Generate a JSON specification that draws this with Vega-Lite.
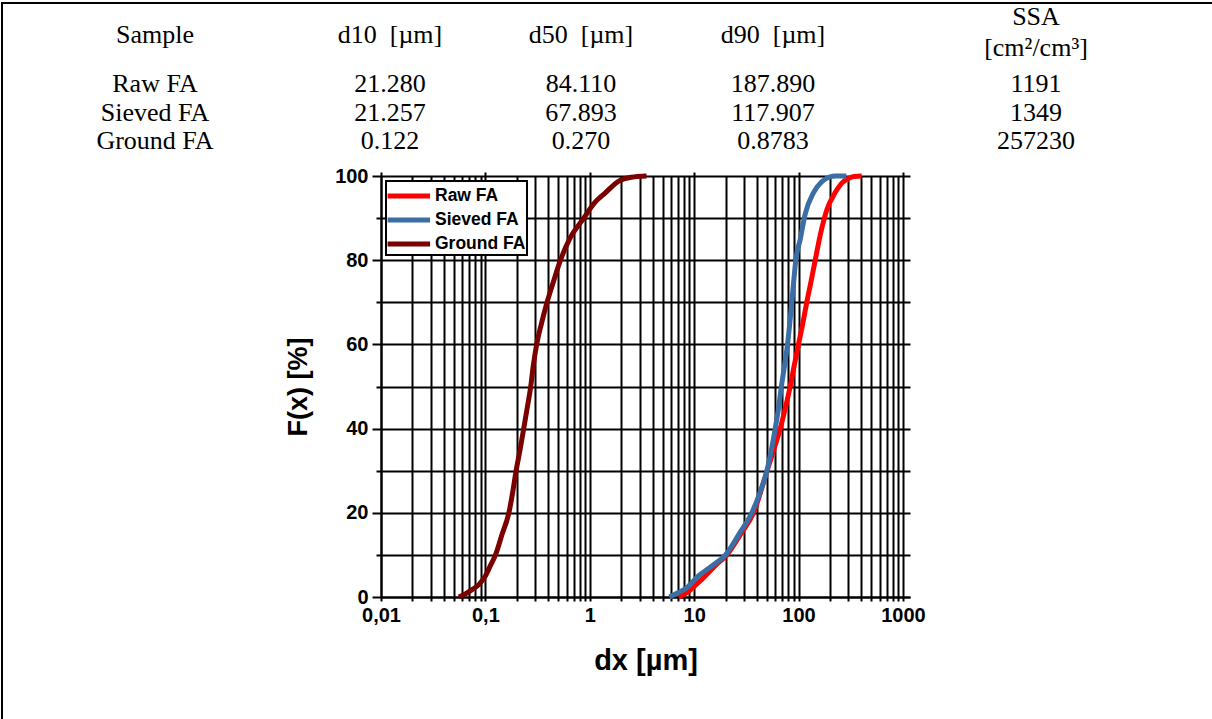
{
  "$schema": "https://vega.github.io/schema/vega-lite/v6.json",
  "padding": {"left": 1, "top": 2, "right": 0, "bottom": 0},
  "background": "white",
  "config": {
    "view": {"stroke": null},
    "title": {"font": "Liberation Serif", "fontSize": 26, "fontWeight": "normal", "color": "black", "anchor": "middle"},
    "legend": {"strokeWidth": 2}
  },
  "datasets": {
    "table": [
      {"sample": "Raw FA", "d10": "21.280", "d50": "84.110", "d90": "187.890", "ssa": "1191"},
      {"sample": "Sieved FA", "d10": "21.257", "d50": "67.893", "d90": "117.907", "ssa": "1349"},
      {"sample": "Ground FA", "d10": "0.122", "d50": "0.270", "d90": "0.8783", "ssa": "257230"}
    ],
    "curves": [
      {"sample": "Raw FA", "dx": 7.1, "F": 0},
      {"sample": "Raw FA", "dx": 8.5, "F": 1},
      {"sample": "Raw FA", "dx": 10, "F": 2.5},
      {"sample": "Raw FA", "dx": 12.8, "F": 5},
      {"sample": "Raw FA", "dx": 16, "F": 7.5},
      {"sample": "Raw FA", "dx": 20.6, "F": 10},
      {"sample": "Raw FA", "dx": 28, "F": 15},
      {"sample": "Raw FA", "dx": 37.1, "F": 20},
      {"sample": "Raw FA", "dx": 50, "F": 30},
      {"sample": "Raw FA", "dx": 58, "F": 35},
      {"sample": "Raw FA", "dx": 66.8, "F": 40},
      {"sample": "Raw FA", "dx": 75, "F": 45},
      {"sample": "Raw FA", "dx": 83.2, "F": 50},
      {"sample": "Raw FA", "dx": 91, "F": 55},
      {"sample": "Raw FA", "dx": 100, "F": 60},
      {"sample": "Raw FA", "dx": 110, "F": 65},
      {"sample": "Raw FA", "dx": 120, "F": 70},
      {"sample": "Raw FA", "dx": 132, "F": 75},
      {"sample": "Raw FA", "dx": 144.5, "F": 80},
      {"sample": "Raw FA", "dx": 165, "F": 87},
      {"sample": "Raw FA", "dx": 187, "F": 92},
      {"sample": "Raw FA", "dx": 224, "F": 96},
      {"sample": "Raw FA", "dx": 260, "F": 98.3},
      {"sample": "Raw FA", "dx": 300, "F": 99.4},
      {"sample": "Raw FA", "dx": 340, "F": 99.9},
      {"sample": "Raw FA", "dx": 403, "F": 100},
      {"sample": "Sieved FA", "dx": 5.8, "F": 0},
      {"sample": "Sieved FA", "dx": 7, "F": 1},
      {"sample": "Sieved FA", "dx": 8.5, "F": 2.2},
      {"sample": "Sieved FA", "dx": 11, "F": 5},
      {"sample": "Sieved FA", "dx": 15, "F": 7.5},
      {"sample": "Sieved FA", "dx": 20, "F": 10},
      {"sample": "Sieved FA", "dx": 27, "F": 15},
      {"sample": "Sieved FA", "dx": 35.7, "F": 20},
      {"sample": "Sieved FA", "dx": 43, "F": 25},
      {"sample": "Sieved FA", "dx": 49.8, "F": 30},
      {"sample": "Sieved FA", "dx": 55, "F": 35},
      {"sample": "Sieved FA", "dx": 59.8, "F": 40},
      {"sample": "Sieved FA", "dx": 64.5, "F": 45},
      {"sample": "Sieved FA", "dx": 68.5, "F": 50},
      {"sample": "Sieved FA", "dx": 73.5, "F": 55},
      {"sample": "Sieved FA", "dx": 78.5, "F": 60},
      {"sample": "Sieved FA", "dx": 82.5, "F": 65},
      {"sample": "Sieved FA", "dx": 86.3, "F": 70},
      {"sample": "Sieved FA", "dx": 90, "F": 75},
      {"sample": "Sieved FA", "dx": 94.2, "F": 80},
      {"sample": "Sieved FA", "dx": 104, "F": 85},
      {"sample": "Sieved FA", "dx": 116, "F": 91},
      {"sample": "Sieved FA", "dx": 139, "F": 96},
      {"sample": "Sieved FA", "dx": 165, "F": 98.5},
      {"sample": "Sieved FA", "dx": 194, "F": 99.7},
      {"sample": "Sieved FA", "dx": 230, "F": 100},
      {"sample": "Sieved FA", "dx": 287, "F": 100},
      {"sample": "Ground FA", "dx": 0.0557, "F": 0},
      {"sample": "Ground FA", "dx": 0.065, "F": 0.8},
      {"sample": "Ground FA", "dx": 0.075, "F": 1.8},
      {"sample": "Ground FA", "dx": 0.087, "F": 3},
      {"sample": "Ground FA", "dx": 0.1, "F": 5},
      {"sample": "Ground FA", "dx": 0.112, "F": 7.5},
      {"sample": "Ground FA", "dx": 0.125, "F": 10},
      {"sample": "Ground FA", "dx": 0.145, "F": 15},
      {"sample": "Ground FA", "dx": 0.168, "F": 20},
      {"sample": "Ground FA", "dx": 0.183, "F": 25},
      {"sample": "Ground FA", "dx": 0.197, "F": 30},
      {"sample": "Ground FA", "dx": 0.215, "F": 35},
      {"sample": "Ground FA", "dx": 0.233, "F": 40},
      {"sample": "Ground FA", "dx": 0.252, "F": 45},
      {"sample": "Ground FA", "dx": 0.272, "F": 50},
      {"sample": "Ground FA", "dx": 0.288, "F": 55},
      {"sample": "Ground FA", "dx": 0.31, "F": 60},
      {"sample": "Ground FA", "dx": 0.345, "F": 65},
      {"sample": "Ground FA", "dx": 0.39, "F": 70},
      {"sample": "Ground FA", "dx": 0.45, "F": 75},
      {"sample": "Ground FA", "dx": 0.524, "F": 80},
      {"sample": "Ground FA", "dx": 0.64, "F": 85},
      {"sample": "Ground FA", "dx": 0.877, "F": 90},
      {"sample": "Ground FA", "dx": 1.1, "F": 93.5},
      {"sample": "Ground FA", "dx": 1.41, "F": 96},
      {"sample": "Ground FA", "dx": 1.9, "F": 98.8},
      {"sample": "Ground FA", "dx": 2.5, "F": 99.7},
      {"sample": "Ground FA", "dx": 3.5, "F": 100}
    ]
  },
  "spacing": 0,
  "resolve": {"scale": {"color": "independent"}, "legend": {"color": "independent"}},
  "hconcat": [
    {"data": {"values": []}, "mark": "point", "width": 2, "height": 717, "view": {"fill": "black", "stroke": null}},
    {
      "spacing": 0,
      "resolve": {"scale": {"color": "independent"}, "legend": {"color": "independent"}},
      "vconcat": [
        {"data": {"values": []}, "mark": "point", "width": 1209, "height": 2, "view": {"fill": "black", "stroke": null}},
        {
          "spacing": 0,
          "hconcat": [
            {
              "data": {"name": "table"}, "width": 304, "height": 95.5,
              "title": {"text": "Sample", "offset": 22},
              "mark": {"type": "text", "font": "Liberation Serif", "fontSize": 26, "color": "black"},
              "encoding": {
                "y": {"field": "sample", "type": "nominal", "sort": null, "axis": null, "scale": {"type": "point", "padding": 0.675, "align": 0.37}},
                "text": {"field": "sample"}
              }
            },
            {
              "data": {"name": "table"}, "width": 166, "height": 95.5,
              "title": {"text": "d10\u00a0 [µm]", "offset": 22},
              "mark": {"type": "text", "font": "Liberation Serif", "fontSize": 26, "color": "black"},
              "encoding": {
                "y": {"field": "sample", "type": "nominal", "sort": null, "axis": null, "scale": {"type": "point", "padding": 0.675, "align": 0.37}},
                "text": {"field": "d10"}
              }
            },
            {
              "data": {"name": "table"}, "width": 216, "height": 95.5,
              "title": {"text": "d50\u00a0 [µm]", "offset": 22},
              "mark": {"type": "text", "font": "Liberation Serif", "fontSize": 26, "color": "black"},
              "encoding": {
                "y": {"field": "sample", "type": "nominal", "sort": null, "axis": null, "scale": {"type": "point", "padding": 0.675, "align": 0.37}},
                "text": {"field": "d50"}
              }
            },
            {
              "data": {"name": "table"}, "width": 168, "height": 95.5,
              "title": {"text": "d90\u00a0 [µm]", "offset": 22},
              "mark": {"type": "text", "font": "Liberation Serif", "fontSize": 26, "color": "black"},
              "encoding": {
                "y": {"field": "sample", "type": "nominal", "sort": null, "axis": null, "scale": {"type": "point", "padding": 0.675, "align": 0.37}},
                "text": {"field": "d90"}
              }
            },
            {
              "data": {"name": "table"}, "width": 358, "height": 95.5,
              "title": {"text": ["SSA", "[cm²/cm³]"], "offset": 9, "lineHeight": 31},
              "mark": {"type": "text", "font": "Liberation Serif", "fontSize": 26, "color": "black"},
              "encoding": {
                "y": {"field": "sample", "type": "nominal", "sort": null, "axis": null, "scale": {"type": "point", "padding": 0.675, "align": 0.37}},
                "text": {"field": "ssa"}
              }
            }
          ]
        },
        {
          "spacing": 0,
          "resolve": {"scale": {"color": "independent"}, "legend": {"color": "independent"}},
          "hconcat": [
            {"data": {"values": []}, "mark": "point", "width": 281, "height": 421},
            {
              "width": 529, "height": 421,
              "resolve": {"axis": {"x": "independent"}},
              "layer": [
                {
                  "data": {"name": "curves"},
                  "mark": {"type": "line", "strokeWidth": 5, "interpolate": "monotone"},
                  "encoding": {
                    "x": {
                      "field": "dx", "type": "quantitative",
                      "scale": {"type": "log", "domain": [0.01, 1170], "nice": false},
                      "axis": {
                        "values": [0.01,0.02,0.03,0.04,0.05,0.06,0.07,0.08,0.09,0.1,0.2,0.3,0.4,0.5,0.6,0.7,0.8,0.9,1,2,3,4,5,6,7,8,9,10,20,30,40,50,60,70,80,90,100,200,300,400,500,600,700,800,900,1000],
                        "grid": true, "gridColor": "black", "gridWidth": 2, "gridOpacity": 1,
                        "domainColor": "black", "domainWidth": 2,
                        "tickColor": "black", "tickWidth": 2, "tickSize": 4,
                        "labelExpr": "abs(log(datum.value)/LN10 - round(log(datum.value)/LN10)) < 0.001 ? replace(format(datum.value, '~g'), '.', ',') : ''",
                        "labelFont": "Liberation Sans", "labelFontWeight": "bold", "labelFontSize": 20, "labelColor": "black",
                        "labelPadding": 4, "labelOverlap": false, "labelFlush": false,
                        "title": "dx [µm]", "titleFont": "Liberation Sans", "titleFontWeight": "bold", "titleFontSize": 29,
                        "titleColor": "black", "titlePadding": 21
                      }
                    },
                    "y": {
                      "field": "F", "type": "quantitative",
                      "scale": {"domain": [0, 100], "nice": false},
                      "axis": {
                        "values": [0,10,20,30,40,50,60,70,80,90,100],
                        "grid": true, "gridColor": "black", "gridWidth": 2, "gridOpacity": 1,
                        "domainColor": "black", "domainWidth": 2,
                        "tickColor": "black", "tickWidth": 2,
                        "tickSize": {"condition": {"test": "datum.value % 20 == 0", "value": 9}, "value": 5},
                        "labelExpr": "datum.value % 20 == 0 ? datum.label : ''",
                        "labelFont": "Liberation Sans", "labelFontWeight": "bold", "labelFontSize": 20, "labelColor": "black",
                        "labelPadding": 4,
                        "title": "F(x) [%]", "titleFont": "Liberation Sans", "titleFontWeight": "bold", "titleFontSize": 27,
                        "titleColor": "black", "titlePadding": 22
                      }
                    },
                    "color": {
                      "field": "sample", "type": "nominal",
                      "scale": {"domain": ["Raw FA", "Sieved FA", "Ground FA"], "range": ["#ff0000", "#3a6ea5", "#7b0000"]},
                      "legend": {
                        "orient": "top-left", "offset": 5, "title": null,
                        "fillColor": "white", "strokeColor": "black", "padding": 1,
                        "symbolType": "M-1.2,0H2.6", "symbolStrokeWidth": 5, "symbolSize": 500,
                        "labelFont": "Liberation Sans", "labelFontWeight": "bold", "labelFontSize": 17.5, "labelColor": "black",
                        "labelOffset": 20, "rowPadding": -1.5
                      }
                    }
                  }
                },
                {
                  "data": {"values": []},
                  "mark": "point",
                  "encoding": {
                    "x": {
                      "field": "dx", "type": "quantitative",
                      "axis": {"orient": "top", "values": [0.01,0.1,1,10,100,1000], "labels": false, "domain": false, "grid": false,
                               "tickColor": "black", "tickWidth": 2, "tickSize": 4, "title": null}
                    }
                  }
                }
              ]
            }
          ]
        }
      ]
    }
  ]
}
